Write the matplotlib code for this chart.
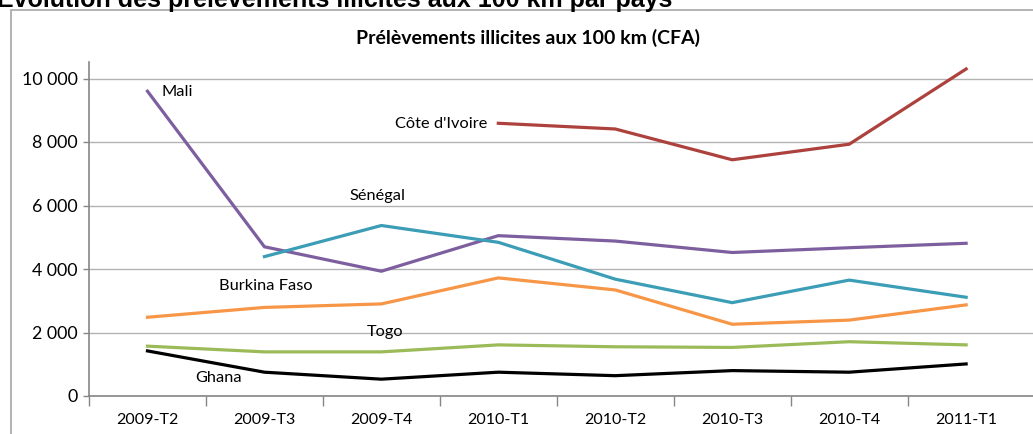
import matplotlib
matplotlib.use("Agg")
import matplotlib.pyplot as plt
from matplotlib.patches import Rectangle
from matplotlib.ticker import FuncFormatter
import numpy as np

categories = ["2009-T2", "2009-T3", "2009-T4", "2010-T1", "2010-T2", "2010-T3", "2010-T4", "2011-T1"]
mali = [9600, 4700, 3930, 5050, 4880, 4520, 4670, 4810]
cote_ivoire = [None, None, None, 8590, 8410, 7440, 7930, 10300]
senegal = [None, 4390, 5370, 4840, 3680, 2940, 3650, 3110]
burkina = [2480, 2790, 2900, 3720, 3340, 2260, 2390, 2870]
togo = [1570, 1390, 1390, 1610, 1550, 1530, 1710, 1610]
ghana = [1420, 750, 530, 750, 640, 800, 750, 1010]

series = [
    ("Mali", mali, "#7d5f9f", (0.124, 9560)),
    ("Côte d'Ivoire", cote_ivoire, "#ad413d", (2.116, 8557)),
    ("Sénégal", senegal, "#3b9db6", (1.726, 6309)),
    ("Burkina Faso", burkina, "#f79646", (0.612, 3465)),
    ("Togo", togo, "#9bbb59", (1.874, 2026)),
    ("Ghana", ghana, "#000000", (0.406, 577)),
]

W, H = 1033, 434
fig = plt.figure(figsize=(W / 100, H / 100), dpi=100)

x0, x1 = 89, 1040
y0, y1 = 396, 62
cat_w = 116.95
px_per_unit = 31.75 / 1000
ax = fig.add_axes([x0 / W, 1 - y0 / H, (x1 - x0) / W, (y0 - y1) / H])

font = ["Lato", "DejaVu Sans"]
x = np.arange(len(categories))
for name, vals, col, (tx, ty) in series:
    v = np.array([np.nan if a is None else a for a in vals], dtype=float)
    ax.plot(x, v, color=col, lw=2.3, solid_joinstyle="miter", zorder=3)
    ax.text(tx, ty, name, ha="left", va="center", fontsize=11.8, family=font, color="#000000", zorder=4)

ax.set_xlim(-0.5, -0.5 + (x1 - x0) / cat_w)
ax.set_ylim(0, (y0 - y1) / px_per_unit)
ax.set_yticks(np.arange(0, 10001, 2000))
ax.yaxis.set_major_formatter(FuncFormatter(lambda v, p: f"{int(v):,}".replace(",", " ")))
ax.set_xticks(np.arange(-0.5, 7, 1.0))
ax.set_xticklabels([])
ax.set_xticks(x, minor=True)
ax.set_xticklabels(categories, minor=True)
ax.tick_params(axis="x", which="major", length=7, width=1, color="#868686", direction="out")
ax.tick_params(axis="x", which="minor", length=0, pad=12, labelsize=11.5)
ax.tick_params(axis="y", length=4, width=1, color="#868686", pad=4, labelsize=12.8)
for lab in ax.get_xticklabels(minor=True) + ax.get_yticklabels():
    lab.set_family(font)

ax.grid(axis="y", color="#b3b3b3", lw=1.0, zorder=0)
ax.set_axisbelow(True)
for s in ["top", "right"]:
    ax.spines[s].set_visible(False)
for s in ["left", "bottom"]:
    ax.spines[s].set_color("#868686")
    ax.spines[s].set_linewidth(1.2)
    ax.spines[s].set_zorder(2)

# outer chart frame
fig.add_artist(Rectangle((11 / W, -0.1), 1.2, 1 - 10 / H + 0.1, transform=fig.transFigure,
                         fill=False, ec="#a6a6a6", lw=1.2))

fig.text(528 / W, 1 - 44 / H, "Prélèvements illicites aux 100 km (CFA)", ha="center", va="baseline",
         fontsize=14, fontweight="bold", family=font)
fig.text(-3 / W, 1 - 7 / H, "Évolution des prélèvements illicites aux 100 km par pays", ha="left",
         va="baseline", fontsize=18, fontweight="bold", family="Liberation Sans")

fig.savefig("out.png", dpi=100)
